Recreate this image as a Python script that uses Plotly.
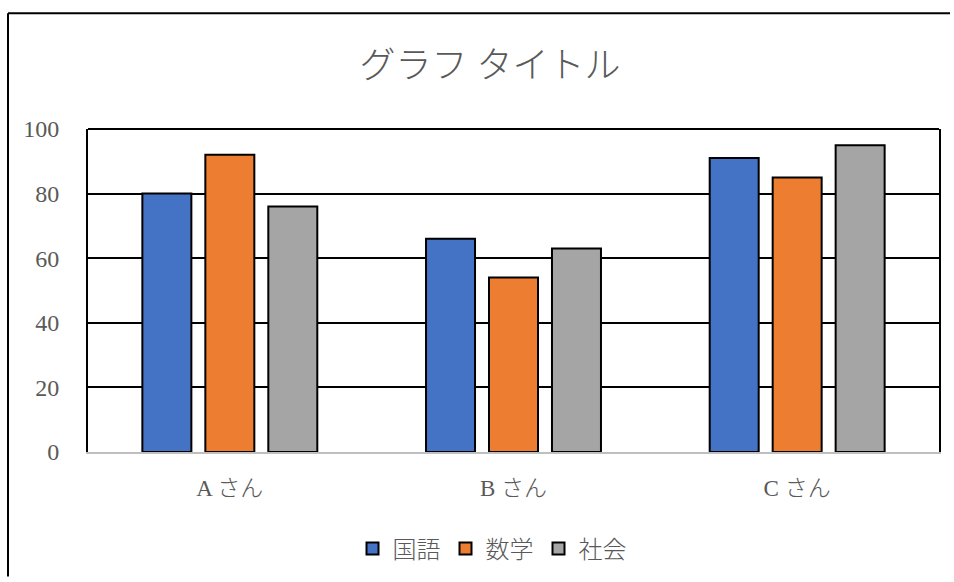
import plotly.graph_objects as go

categories = ["A さん", "B さん", "C さん"]
series_names = ["国語", "数学", "社会"]
kokugo = [80, 66, 91]
sugaku = [92, 54, 85]
shakai = [76, 63, 95]
colors = ["#4472C4", "#ED7D31", "#A5A5A5"]
y_ticks = [0, 20, 40, 60, 80, 100]

W, H = 954, 582
L, R, T, B = 88, 954 - 939, 129, 582 - 453
pw, ph = W - L - R, H - T - B

def px_x(x):
    return (x - L) / pw

def px_y(y):
    return (H - B - y) / ph

FONT = "Liberation Serif, 'Noto Sans CJK JP', serif"
TXT = "#595959"

fig = go.Figure()
for name, vals, col in zip(series_names, [kokugo, sugaku, shakai], colors):
    fig.add_trace(go.Bar(
        name=name, x=categories, y=vals,
        marker=dict(color=col, line=dict(color="black", width=2)),
    ))

fig.update_layout(
    width=W, height=H,
    margin=dict(l=L, r=R, t=T, b=B),
    paper_bgcolor="white", plot_bgcolor="white",
    barmode="group", bargap=0.334, bargroupgap=0.222,
    font=dict(family=FONT, color=TXT, size=22),
    title=dict(text="グラフ タイトル", x=490 / W, xanchor="center",
               y=1 - 65 / H, yanchor="middle", xref="container", yref="container",
               font=dict(size=36, color=TXT, family=FONT, weight=300)),
    showlegend=True,
    legend=dict(orientation="h", x=px_x(492), xanchor="center",
                y=px_y(549), yanchor="middle",
                font=dict(size=24, color=TXT, family=FONT, weight=300),
                itemwidth=30, tracegroupgap=0),
    xaxis=dict(showgrid=False, showline=True, linecolor="#BFBFBF", linewidth=2,
               ticks="", tickfont=dict(size=23, color=TXT, weight=300),
               ticklabelstandoff=14),
    yaxis=dict(range=[0, 100], tickvals=y_ticks, showgrid=True, gridcolor="black",
               gridwidth=1.5, zeroline=False, showline=True, mirror=True,
               linecolor="black", linewidth=2, ticks="",
               tickfont=dict(size=24, color=TXT), ticklabelstandoff=22),
    shapes=[
        dict(type="line", xref="paper", yref="paper", x0=0, x1=1, y0=1, y1=1,
             line=dict(color="black", width=2)),
        dict(type="line", xref="paper", yref="paper",
             x0=px_x(8), x1=px_x(8), y0=px_y(578), y1=px_y(13),
             line=dict(color="black", width=2)),
        dict(type="line", xref="paper", yref="paper",
             x0=px_x(8), x1=px_x(950), y0=px_y(13), y1=px_y(13),
             line=dict(color="black", width=2)),
    ],
)

fig.write_html("out.html")
